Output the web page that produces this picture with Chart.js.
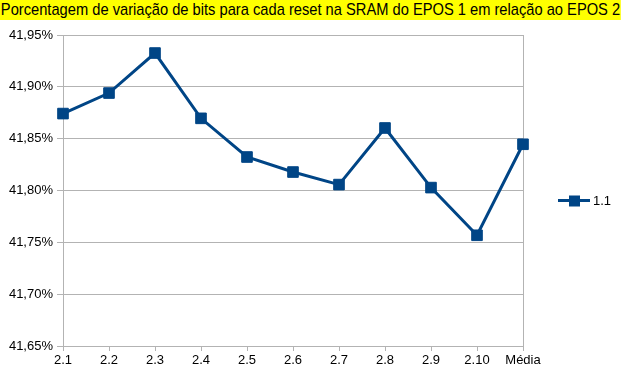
<!DOCTYPE html>
<html>
<head>
<meta charset="utf-8">
<script src="https://cdn.jsdelivr.net/npm/chart.js@4"></script>
<style>
  html, body { margin: 0; padding: 0; background: #fff; }
  #wrap { position: relative; width: 623px; height: 376px; overflow: hidden; }
  #title {
    position: absolute; left: 0; top: 0;
    font: 17px "Liberation Sans Narrow", "Liberation Sans", Arial, sans-serif;
    background: #ffff00; color: #000; line-height: 20px;
    padding: 0 1px;
    white-space: nowrap;
    transform-origin: 0 0;
  }
  canvas { position: absolute; left: 0; top: 0; }
</style>
</head>
<body>
<div id="wrap">
  <canvas id="chart" width="623" height="376"></canvas>
  <span id="title">Porcentagem de variação de bits para cada reset na SRAM do EPOS 1 em relação ao EPOS 2</span>
</div>
<script>
const categories = ["2.1", "2.2", "2.3", "2.4", "2.5", "2.6", "2.7", "2.8", "2.9", "2.10", "Média"];
const series11 = [41.8742, 41.894, 41.9326, 41.8696, 41.8323, 41.8178, 41.8057, 41.8603, 41.8028, 41.7568, 41.8446];
const seriesName = "1.1";
const yMin = 41.65;
const yMax = 41.95;
const yStep = 0.05;

const lineColor = "#004586";
const gridColor = "#b3b3b3";
const font = { family: "Liberation Sans", size: 13 };

// squeeze the title to the width it has in the original
const title = document.getElementById("title");
const titleWidth = title.getBoundingClientRect().width;
title.style.transform = "scaleX(" + (621 / titleWidth) + ")";

// legend drawn by hand: line with a square marker, as in the original
const sideLegend = {
  id: "sideLegend",
  afterDraw(chart) {
    const ctx = chart.ctx;
    const y = (chart.chartArea.top + chart.chartArea.bottom) / 2 + 10;
    ctx.save();
    ctx.strokeStyle = lineColor;
    ctx.lineWidth = 3;
    ctx.beginPath();
    ctx.moveTo(558, y);
    ctx.lineTo(590, y);
    ctx.stroke();
    ctx.fillStyle = lineColor;
    ctx.fillRect(569, y - 5, 11, 11);
    ctx.fillStyle = "#000";
    ctx.font = "13px 'Liberation Sans'";
    ctx.textBaseline = "middle";
    ctx.fillText(seriesName, 593, y + 1);
    ctx.restore();
  },
};

new Chart(document.getElementById("chart"), {
  type: "line",
  data: {
    labels: categories,
    datasets: [
      {
        label: seriesName,
        data: series11,
        borderColor: lineColor,
        backgroundColor: lineColor,
        borderWidth: 3,
        tension: 0,
        pointStyle: "rect",
        pointRadius: 7.5,
        pointBorderWidth: 1,
        pointBorderColor: lineColor,
      },
    ],
  },
  options: {
    responsive: false,
    animation: false,
    layout: {
      padding: { top: 35, right: 100, bottom: 0, left: 0 },
    },
    plugins: {
      legend: { display: false },
      tooltip: { enabled: false },
    },
    scales: {
      x: {
        offset: false,
        afterFit: (scale) => { scale.height = 30; },
        grid: {
          color: (c) => (c.index === categories.length - 1 ? gridColor : "rgba(0,0,0,0)"),
          tickColor: gridColor,
          tickLength: 5,
        },
        border: { color: gridColor },
        ticks: { font, color: "#000", padding: 2, maxRotation: 0, autoSkip: false },
      },
      y: {
        min: yMin,
        max: yMax,
        afterFit: (scale) => { scale.width = 63; },
        grid: { color: gridColor, tickLength: 6 },
        border: { color: gridColor },
        ticks: {
          stepSize: yStep,
          font,
          color: "#000",
          padding: 4,
          callback: (v) => v.toFixed(2).replace(".", ",") + "%",
        },
      },
    },
  },
  plugins: [sideLegend],
});
</script>
</body>
</html>
